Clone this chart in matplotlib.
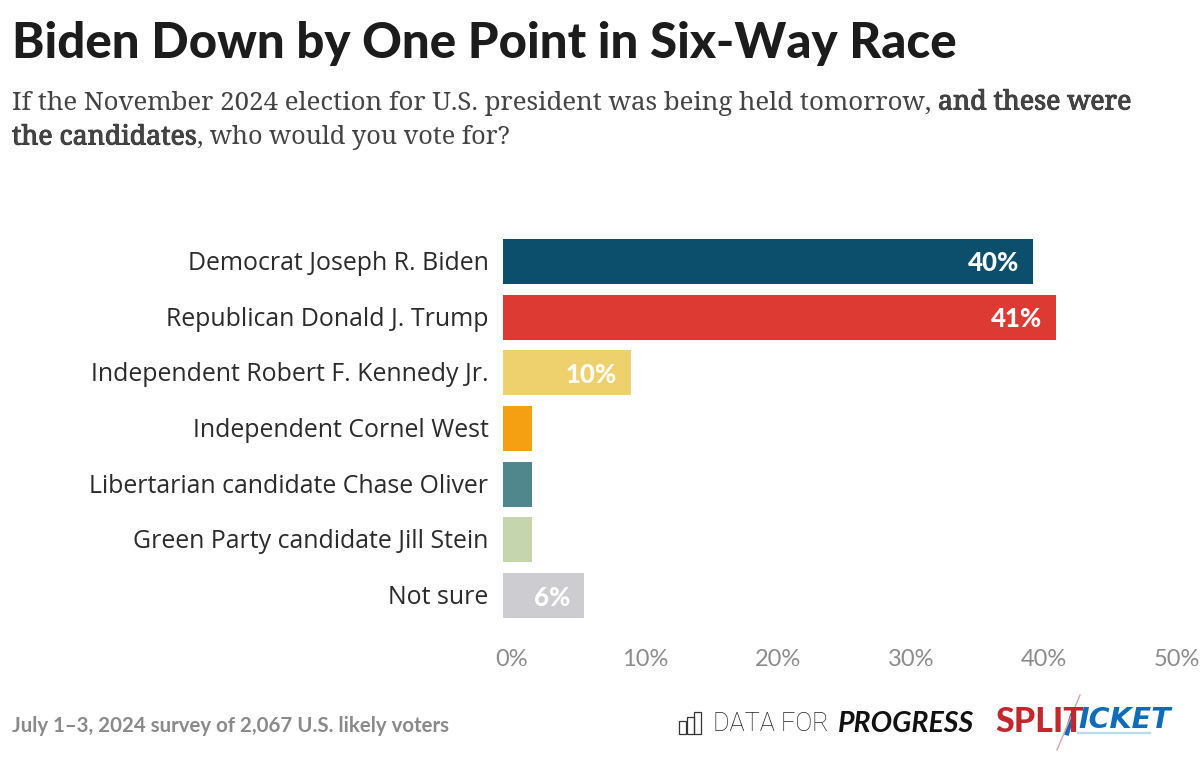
import matplotlib
matplotlib.use("Agg")
import matplotlib.pyplot as plt
import matplotlib.patheffects as pe
from matplotlib.patches import Rectangle
from matplotlib.transforms import ScaledTranslation

candidates = ["Democrat Joseph R. Biden", "Republican Donald J. Trump", "Independent Robert F. Kennedy Jr.",
              "Independent Cornel West", "Libertarian candidate Chase Oliver", "Green Party candidate Jill Stein", "Not sure"]
shares = [39.85, 41.6, 9.6, 2.2, 2.2, 2.2, 6.1]
share_labels = ["40%", "41%", "10%", "", "", "", "6%"]
bar_colors = ["#0b4f6c", "#dc3a32", "#eed06c", "#f59f12", "#4f878c", "#c5d6ae", "#cdccd0"]
x_ticks = [0, 10, 20, 30, 40, 50]
x_tick_labels = ["0%", "10%", "20%", "30%", "40%", "50%"]

W, H = 1200, 764
plt.rcParams['font.family'] = ['Lato', 'DejaVu Sans']

fig = plt.figure(figsize=(12, 7.64), dpi=100)
ax = fig.add_axes([503 / W, 1 - 623.5 / H, 665 / W, 390 / H])

ax.barh(range(len(shares)), shares, height=0.81, color=bar_colors)
ax.set_xlim(0, 50)
ax.set_ylim(6.5, -0.5)
for s in ax.spines.values():
    s.set_visible(False)

ax.set_yticks(range(len(candidates)), candidates)
ax.set_xticks(x_ticks, x_tick_labels)
ax.tick_params(axis='y', length=0, pad=10.5, labelsize=17.9, labelcolor="#2b2b2b")
ax.tick_params(axis='x', length=0, pad=18, labelsize=17, labelcolor="#8c8c8c")
for lab in ax.get_yticklabels():
    lab.set_family(['Open Sans', 'DejaVu Sans'])
    lab.set_transform(lab.get_transform() + ScaledTranslation(0, 1 / 100, fig.dpi_scale_trans))
# tick labels sit a little right of the true tick position in the original
shift = ScaledTranslation(9 / 100, 0, fig.dpi_scale_trans)
for lab in ax.get_xticklabels():
    lab.set_transform(lab.get_transform() + shift)

for i, (v, lab) in enumerate(zip(shares, share_labels)):
    if lab:
        ax.annotate(lab, (v, i), xytext=(-10, -1.5), textcoords='offset points', ha='right', va='center',
                    color="white", fontsize=18.5, fontweight='black')


def px_text(x, y, s, **kw):
    return fig.text(x / W, 1 - y / H, s, **kw)


px_text(12, 43, "Biden Down by One Point in Six-Way Race", fontsize=35.4, fontweight='black',
        color="#1c1c1c", va='center')

serif = ['Noto Serif', 'DejaVu Serif']
sub_kw = dict(color="#444444", va='baseline', family=serif)
# the installed serif has one weight, so the bold run gets a thin outline
heavy = [pe.withStroke(linewidth=0.7, foreground="#333333")]
px_text(12, 109.5, "If the November 2024 election for U.S. president was being held tomorrow, ", fontsize=18.65, **sub_kw)
px_text(938, 109.5, "and these were", path_effects=heavy, fontsize=19.2, **sub_kw)
px_text(12, 144.5, "the candidates", path_effects=heavy, fontsize=19.2, **sub_kw)
px_text(197, 144.5, ", who would you vote for?", fontsize=18.2, **sub_kw)

px_text(12, 726, "July 1–3, 2024 survey of 2,067 U.S. likely voters", fontsize=14.7, fontweight='bold',
        color="#8a8a8a", va='center')

# logos, drawn as text and small boxes
for bx, bh in [(679, 13), (686.5, 17), (694, 22)]:
    fig.add_artist(Rectangle((bx / W, 1 - 734 / H), 7 / W, bh / H, transform=fig.transFigure,
                             fill=False, edgecolor="#333333", linewidth=0.9))
px_text(713, 724, "DATA FOR", fontsize=18.2, color="#222222", va='center', family=['Roboto', 'DejaVu Sans'],
        fontweight='light')
px_text(838, 724, "PROGRESS", fontsize=20.5, color="#111111", va='center', fontweight='bold', style='italic')
px_text(995, 721.5, "SPLIT", fontsize=24.5, color="#c1272d", va='center', fontweight='black')
px_text(1078, 719.5, "ICKET", fontsize=20.5, color="#0f6cb8", va='center', fontweight='bold', style='italic',
        family=['DejaVu Sans'])
fig.add_artist(plt.Line2D([1078 / W, 1150 / W], [1 - 733 / H, 1 - 733 / H], color="#bcd9f0", linewidth=1.6))
fig.add_artist(plt.Line2D([1072 / W, 1067 / W], [1 - 716 / H, 1 - 733 / H], color="#0f6cb8", linewidth=3.4))
fig.add_artist(plt.Line2D([1057 / W, 1080 / W], [1 - 750 / H, 1 - 695 / H], color="#e3a0a0", linewidth=1))

fig.savefig("out.png", dpi=100, facecolor="white")
